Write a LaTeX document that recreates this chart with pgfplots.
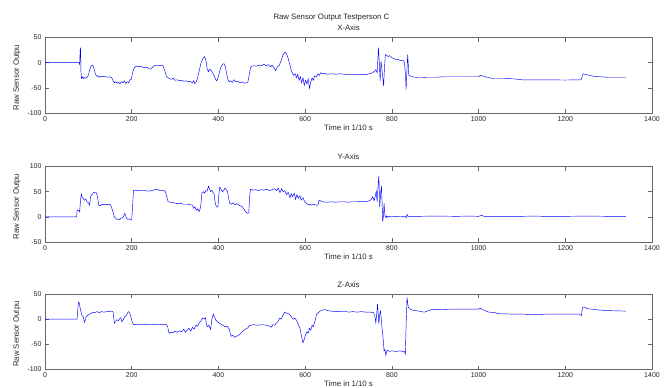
\documentclass[border=0pt]{standalone}
\usepackage{fontspec}
\setmainfont{Liberation Sans}
\usepackage{pgfplots}
\pgfplotsset{compat=1.18}
\pgfplotsset{
  mystyle/.style={
    scale only axis, width=607bp, height=75.5bp,
    xmin=0, xmax=1400, xtick={0,200,...,1400},
    axis line style={black!60, line width=0.5bp},
    tick style={black!60, line width=0.5bp},
    major tick length=4bp,
    tick align=inside,
    ticklabel style={font=\fontsize{7}{8}\selectfont, text=black!85},
    xticklabel style={yshift=0bp},
    scaled ticks=false,
    /pgf/number format/1000 sep={},
    /pgf/number format/assume math mode=true,
    xlabel={Time in 1/10 s},
    ylabel={Raw Sensor Outpu},
    every axis title shift=0pt,
    x label style={at={(axis description cs:0.5,-0.19)}, anchor=center, font=\fontsize{7.8}{9}\selectfont, text=black!85},
    y label style={at={(axis description cs:-0.0461,0.47)}, anchor=center, rotate=0, font=\fontsize{7.8}{9}\selectfont, text=black!85},
    title style={at={(axis description cs:0.5,1)}, anchor=center, yshift=9.5bp, font=\fontsize{7.8}{9}\selectfont, text=black!85},
    no markers,
    every axis plot/.append style={color={rgb,255:red,20;green,20;blue,255}, line width=0.45bp, mark=none},
  }
}
\begin{document}
\begin{tikzpicture}
\useasboundingbox (0,0) rectangle (667bp,-388bp);
\node[anchor=west, font=\fontsize{7.8}{9}\selectfont, text=black!85] at (270bp,-17.5bp) {Raw Sensor Output Testperson C};
% X axis
\begin{axis}[mystyle, at={(45bp,-37.5bp)}, anchor=north west,
  ymin=-100, ymax=50, ytick={-100,-50,0,50}, title={X-Axis}]
\addplot coordinates {(0,0)(79,0)(80,-5)(81,25)(82,27.6)(83,-20)(84,-31)(86,-28)(88,-32)(90,-29)(92,-31)(95,-30)(98,-28)(100,-25)(103,-15)(106,-7)(109,-4.6)(111,-6)(113,-12)(116,-22)(119,-27)(122,-26)(125,-29)(128,-27)(132,-28)(136,-27)(140,-28)(145,-29)(150,-28)(154,-30)(157,-36)(160,-40)(163,-38)(166,-41)(170,-39)(173,-42)(176,-38)(180,-40)(183,-36)(186,-41)(190,-38)(193,-40)(196,-34)(199,-33)(202,-20)(205,-12)(208,-8)(211,-7)(215,-8)(220,-7)(225,-9)(230,-10)(235,-9)(240,-12)(244,-13)(248,-9)(252,-6)(258,-5)(265,-6)(272,-6)(276,-15)(280,-27)(284,-30)(288,-32)(292,-33)(296,-31)(300,-35)(305,-34)(310,-36)(315,-35)(320,-37)(325,-36)(330,-38)(335,-37)(340,-40)(343,-36)(346,-42)(349,-38)(352,-30)(356,-15)(360,0)(364,8)(368,12)(371,5)(374,-12)(377,-18)(380,-13)(384,-16)(388,-22)(392,-30)(395,-36)(398,-34)(402,-20)(406,-8)(410,-3)(413,-2)(416,-8)(419,-22)(422,-34)(425,-38)(428,-36)(432,-39)(436,-34)(440,-38)(445,-37)(450,-40)(455,-38)(460,-41)(465,-40)(468,-38)(471,-25)(474,-10)(477,-7)(482,-6)(488,-7)(494,-5)(500,-6)(505,-3)(510,-6)(515,-4)(520,-8)(524,-5)(528,-10)(532,-16)(536,-8)(540,-6)(545,5)(549,15)(553,21)(557,18)(561,8)(565,-5)(569,-18)(573,-25)(577,-22)(580,-30)(583,-23)(586,-35)(589,-28)(592,-40)(595,-30)(598,-45)(601,-35)(604,-42)(607,-32)(610,-51)(613,-38)(616,-30)(619,-35)(622,-26)(626,-28)(630,-22)(633,-25)(636,-20)(640,-22)(645,-21)(650,-23)(660,-22)(670,-23)(680,-22)(690,-23)(700,-24)(710,-23)(720,-24)(730,-23)(740,-24)(748,-22)(755,-20)(760,-17)(763,-14)(766,-20)(769,30)(771,0)(773,-36)(775,3)(778,-20)(781,-46)(783,-10)(785,16)(788,15)(791,12)(795,14)(800,10)(805,8)(810,6)(815,6)(820,4)(825,5)(829,1)(831,-20)(833,-53)(835,-10)(836.5,16)(838,-5)(839,-25)(842,-26)(848,-28)(855,-29)(862,-30)(870,-30)(880,-29)(900,-29)(920,-28)(950,-28)(980,-28)(1000,-28)(1004,-25)(1008,-26)(1015,-28)(1025,-30)(1035,-31.5)(1060,-31.5)(1080,-32)(1090,-33)(1100,-34)(1150,-34)(1200,-34.5)(1236,-34)(1238,-30)(1241,-22)(1245,-23)(1255,-25)(1265,-27)(1279,-28)(1300,-29)(1320,-29)(1340,-29)};
\end{axis}
% Y axis
\begin{axis}[mystyle, at={(45bp,-166.5bp)}, anchor=north west,
  ymin=-50, ymax=100, ytick={-50,0,50,100}, title={Y-Axis}]
\addplot coordinates {(0,0)(73,0)(74,13)(78,13)(80,10)(82,35)(84,45)(86,38)(88,37)(91,33)(94,35)(97,30)(100,28)(103,23)(105,40)(108,44)(111,47)(113,49)(116,48)(119,47)(122,35)(124,23)(128,22)(132,25)(137,24)(142,25)(147,24)(150,25)(153,20)(156,12)(160,0)(163,-3)(166,-5)(169,-4)(172,-6)(175,-3)(178,-2)(181,0)(184,7)(186,3)(188,-3)(191,-5)(194,-4)(197,-6)(200,-5)(202,20)(204,52)(208,53)(215,52)(222,53)(230,52)(240,51)(250,53)(258,55)(265,52)(272,53)(277,51)(281,40)(284,30)(290,29)(297,28)(305,26)(312,27)(320,25)(328,25)(335,24)(340,23)(343,17)(346,20)(349,13)(352,16)(355,10)(357,14)(359,20)(362,48)(365,50)(368,47)(371,52)(374,51)(377,61)(380,55)(382,50)(385,53)(388,47)(390,46)(392,30)(394,23)(397,19)(399,20)(401,45)(403,59)(406,55)(409,50)(412,52)(415,57)(418,54)(421,50)(424,35)(426,27)(430,25)(434,28)(438,24)(442,26)(446,24)(450,22)(455,20)(459,15)(463,10)(467,7)(470,8)(472,40)(474,55)(480,53)(486,54)(492,52)(498,54)(505,53)(512,55)(518,52)(524,54)(530,56)(534,52)(538,57)(542,48)(546,56)(549,50)(553,52)(557,44)(561,49)(565,38)(568,46)(571,40)(575,47)(578,35)(581,44)(584,37)(588,42)(591,33)(595,38)(599,30)(603,27)(607,24)(611,25)(615,23)(620,25)(626,23)(630,24)(632,33)(635,32)(640,30)(650,29)(660,30)(670,29)(680,30)(690,30)(700,29)(710,30)(720,30)(730,31)(740,30)(748,32)(752,34)(756,40)(759,32)(762,42)(764,51)(766,30)(768,60)(770,82)(772,20)(774,45)(776,62)(778,15)(779,-10)(781,5)(782,27)(784,3)(786,-2)(788,2)(790,-1)(793,1)(800,0)(810,1)(820,0)(830,1)(833,-2)(835,5)(837,1)(845,1)(860,1)(900,1.5)(950,1)(980,1.5)(1000,1)(1007,3)(1012,1)(1050,1)(1100,1)(1125,1.5)(1150,1)(1200,1)(1250,1.5)(1300,1)(1340,1)};
\end{axis}
% Z axis
\begin{axis}[mystyle, at={(45bp,-294bp)}, anchor=north west,
  ymin=-100, ymax=50, ytick={-100,-50,0,50}, title={Z-Axis}]
\addplot coordinates {(0,0)(74,0)(75,10)(77,34)(79,32)(82,18)(85,8)(88,5)(91,-6)(93,-2)(95,5)(99,8)(103,10)(107,12)(110,14)(115,13)(120,15)(125,13)(130,15)(136,14)(142,15)(148,15)(154,16)(157,14)(160,-8)(163,-5)(165,-1)(169,-3)(173,2)(175,3)(177,-5)(180,-2)(184,5)(188,8)(192,15)(195,13)(198,5)(201,-5)(204,-11)(210,-11)(220,-10)(230,-11)(240,-10)(250,-11)(260,-10)(270,-11)(280,-11)(283,-15)(286,-28)(290,-26)(295,-27)(300,-24)(305,-26)(310,-23)(315,-25)(320,-20)(324,-26)(328,-22)(332,-18)(336,-24)(340,-16)(344,-20)(348,-12)(352,-14)(355,-8)(359,-5)(363,2)(367,0)(370,3)(372,-8)(374,-15)(378,-12)(382,-20)(385,0)(388,10)(391,5)(394,-2)(398,-5)(402,-8)(406,-10)(410,-12)(415,-15)(420,-14)(425,-20)(429,-34)(433,-32)(437,-36)(442,-34)(448,-31)(452,-28)(456,-24)(462,-20)(467,-18)(471,-13)(480,-11)(490,-12)(500,-11)(510,-12)(518,-14)(522,-16)(526,-11)(530,-12)(533,-8)(537,-5)(541,2)(545,0)(549,8)(553,14)(557,12)(561,11)(564,9)(568,5)(572,0)(576,2)(580,-2)(584,-10)(588,-18)(592,-35)(595,-47)(598,-40)(601,-31)(604,-25)(607,-28)(610,-18)(613,-22)(616,-12)(619,-15)(622,-5)(624,0)(626,9)(630,12)(634,16)(640,18)(646,19)(652,17)(660,16)(670,15)(680,15)(690,16)(700,14)(710,15)(720,14)(730,15)(740,14)(750,14)(758,13)(761,5)(763,-7)(765,10)(767,30)(769,5)(770,-10)(772,10)(774,16)(776,-5)(778,-23)(780,-40)(782,-63)(784,-60)(786,-72)(788,-64)(790,-62)(795,-64)(800,-63)(810,-64)(820,-63)(826,-65)(829,-64)(831,-69)(833,-10)(835,43)(837,30)(838,23)(842,20)(848,18)(855,17)(862,16)(868,15)(875,14)(885,17)(891,19)(910,19)(940,20)(970,20)(1000,20)(1004,22)(1008,19)(1015,17)(1023,14)(1038,13)(1045,11)(1080,10)(1100,10)(1130,9)(1160,10)(1200,10)(1232,10)(1237,7)(1240,24)(1245,24)(1250,21)(1260,20)(1270,19)(1280,18)(1300,17)(1320,16.5)(1340,16)};
\end{axis}
\end{tikzpicture}
\end{document}
